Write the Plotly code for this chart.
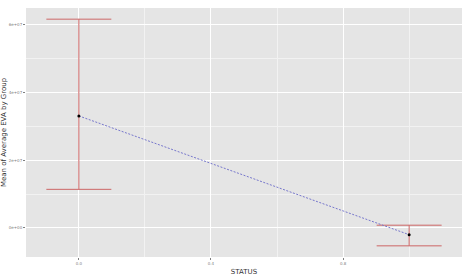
import plotly.graph_objects as go

status = [0.0, 1.0]
mean_eva = [33.1e6, -2.0e6]
upper = [61.7e6, 0.8e6]
lower = [11.4e6, -5.3e6]

y_tickvals = [0, 2e7, 4e7, 6e7]
y_ticktext = ["0e+00", "2e+07", "4e+07", "6e+07"]
x_tickvals = [0.0, 0.4, 0.8]
x_ticktext = ["0.0", "0.4", "0.8"]

fig = go.Figure()
fig.add_trace(go.Scatter(
    x=status, y=mean_eva, mode="markers",
    marker=dict(color="rgba(0,0,0,0)", size=1),
    error_y=dict(type="data", symmetric=False,
                 array=[u - m for u, m in zip(upper, mean_eva)],
                 arrayminus=[m - l for m, l in zip(mean_eva, lower)],
                 color="#CC6666", thickness=1, width=32.5),
    showlegend=False, hoverinfo="skip"))
fig.add_trace(go.Scatter(
    x=status, y=mean_eva, mode="lines",
    line=dict(color="#7777CC", width=1, dash="2px,1.5px"),
    showlegend=False))
fig.add_trace(go.Scatter(
    x=status, y=mean_eva, mode="markers",
    marker=dict(color="black", size=3),
    showlegend=False))

axis_common = dict(
    showline=False, zeroline=False, gridcolor="white", gridwidth=1,
    ticks="outside", ticklen=2, tickcolor="#7F7F7F", tickwidth=1,
    tickfont=dict(family="DejaVu Sans", size=4, color="#7F7F7F"),
    title_font=dict(family="DejaVu Sans", size=7, color="#333333"),
    automargin=False,
)
fig.update_layout(
    width=469, height=280,
    margin=dict(l=26, r=7, t=8, b=23),
    paper_bgcolor="white", plot_bgcolor="#E5E5E5",
    xaxis=dict(range=[-0.16, 1.16], tickvals=x_tickvals, ticktext=x_ticktext,
               title=dict(text="STATUS", standoff=4),
               minor=dict(tickvals=[0.2, 0.6, 1.0], showgrid=True, gridcolor="#F2F2F2", gridwidth=0.5, ticks=""),
               **axis_common),
    yaxis=dict(range=[-8.6e6, 65.0e6], tickvals=y_tickvals, ticktext=y_ticktext,
               title=dict(text="Mean of Average EVA by Group", standoff=3),
               minor=dict(tickvals=[-1e7, 1e7, 3e7, 5e7], showgrid=True, gridcolor="#F2F2F2", gridwidth=0.5, ticks=""),
               **axis_common),
)
fig.write_html("out.html", config={"displayModeBar": False},
               post_script="document.body.style.margin='0';")
